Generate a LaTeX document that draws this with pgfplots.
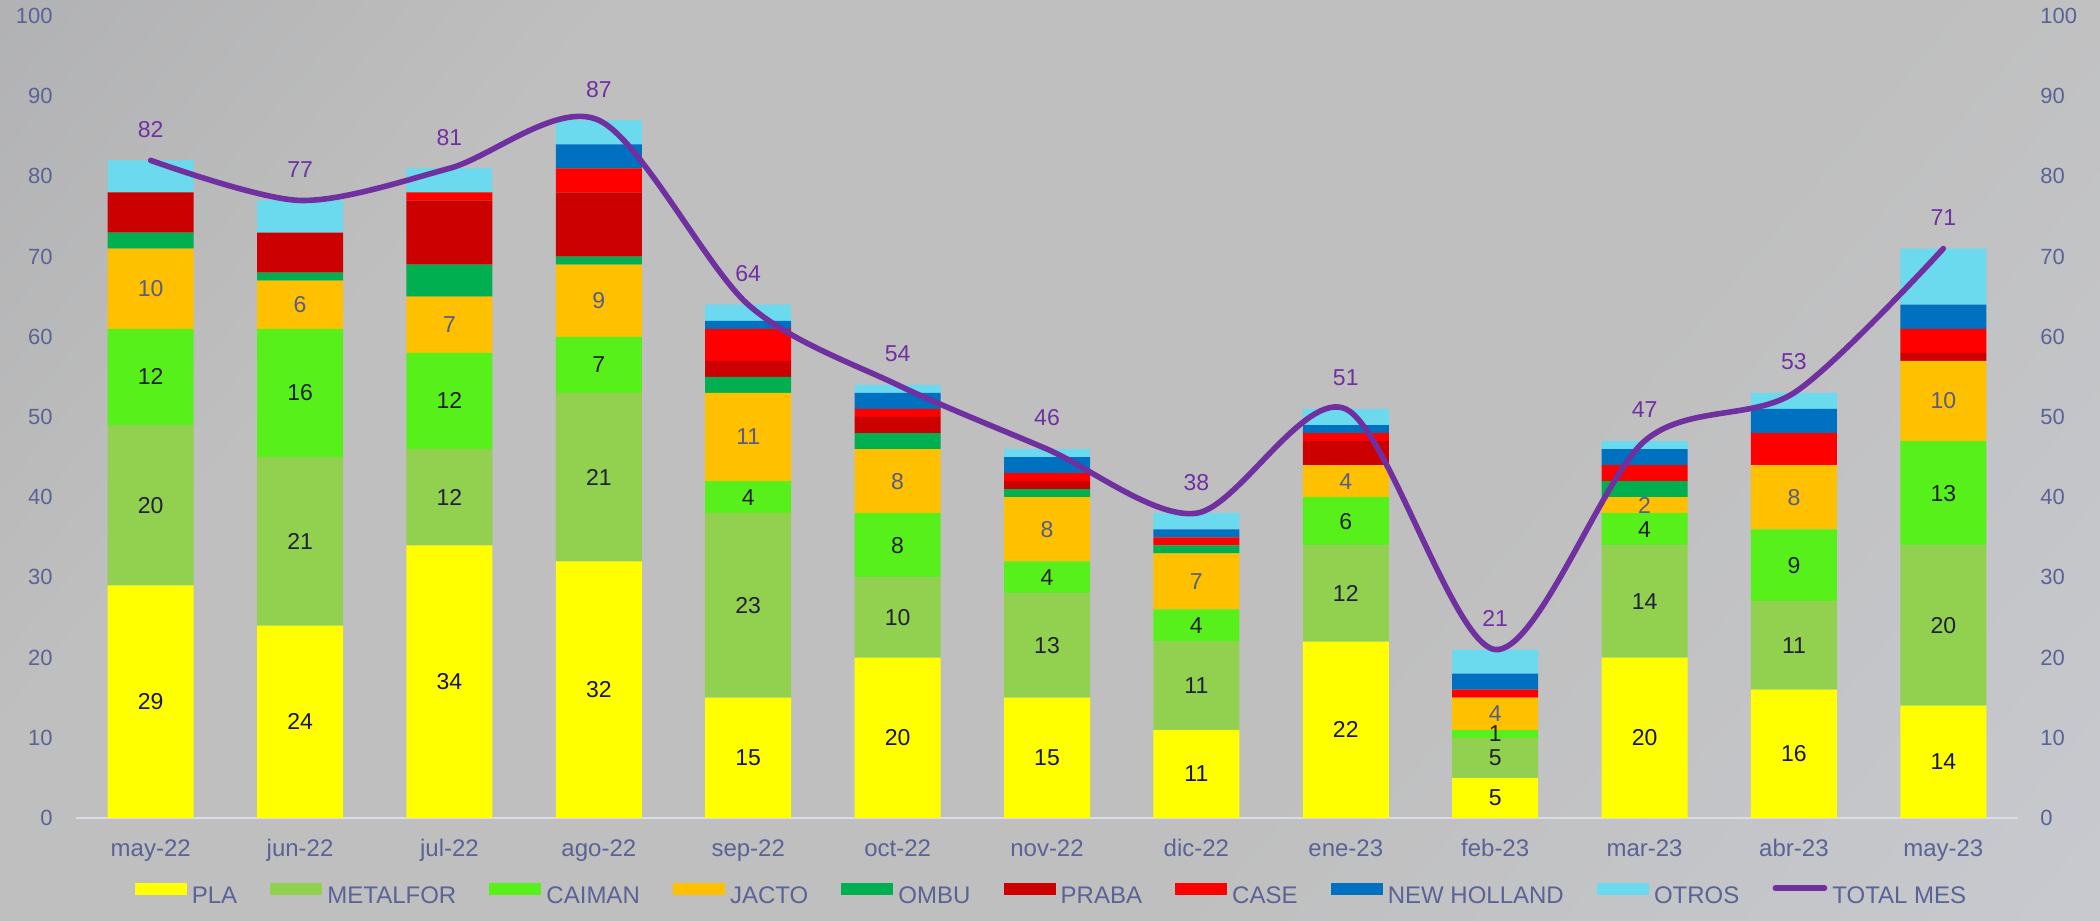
\documentclass[border=0pt]{standalone}
\usepackage{fontspec}
\setmainfont{Liberation Sans}
\usepackage{pgfplots}
\pgfplotsset{compat=1.18}
\usepackage{pgfplotstable}

\definecolor{cPLA}{HTML}{FFFF00}
\definecolor{cMET}{HTML}{92D050}
\definecolor{cCAI}{HTML}{58F01A}
\definecolor{cJAC}{HTML}{FFC000}
\definecolor{cOMB}{HTML}{00B050}
\definecolor{cPRA}{HTML}{CC0000}
\definecolor{cCAS}{HTML}{FF0000}
\definecolor{cNH}{HTML}{0070C0}
\definecolor{cOTR}{HTML}{6BD9EE}
\definecolor{cTOT}{HTML}{7030A0}
\definecolor{tickc}{HTML}{5A6396}
\definecolor{lblA}{HTML}{15154A}
\definecolor{lblB}{HTML}{202030}
\definecolor{lblJ}{HTML}{575C88}
\definecolor{axisline}{HTML}{DCDDE4}
\definecolor{bgA}{HTML}{A4A5A9}
\definecolor{bgB}{HTML}{BFBFBF}
\definecolor{bgC}{HTML}{CDD0D9}

\pgfdeclarehorizontalshading{bgshade}{100bp}{color(0bp)=(bgA); color(30bp)=(bgB); color(62bp)=(bgB); color(100bp)=(bgC)}

\pgfplotstableread{
x PLA MET CAI JAC OMB PRA CAS NH OTR TOT
0 29 20 12 10 2 5 0 0 4 82
1 24 21 16 6 1 5 0 0 4 77
2 34 12 12 7 4 8 1 0 3 81
3 32 21 7 9 1 8 3 3 3 87
4 15 23 4 11 2 2 4 1 2 64
5 20 10 8 8 2 2 1 2 1 54
6 15 13 4 8 1 1 1 2 1 46
7 11 11 4 7 1 0 1 1 2 38
8 22 12 6 4 0 3 1 1 2 51
9 5 5 1 4 0 0 1 2 3 21
10 20 14 4 2 2 0 2 2 1 47
11 16 11 9 8 0 0 4 3 2 53
12 14 20 13 10 0 1 3 3 7 71
}\datatable

\pgfplotsset{
  mybar/.style={fill=#1, draw=none,
    legend image code/.code={\fill[fill=#1] (0pt,1pt) rectangle (26pt,7pt);}},
  lbl/.style={nodes near coords, point meta=rawy,
    every node near coord/.append style={anchor=center,
      font=\fontsize{11.5}{13}\selectfont, text=#1}},
}

\begin{document}
\begin{tikzpicture}
\shade[shading=bgshade, shading angle=-40] (0,0) rectangle (1050pt,460.5pt);
\useasboundingbox (0,0) rectangle (1050pt,460.5pt);
\begin{axis}[
  at={(38pt,51.5pt)}, anchor=south west, scale only axis,
  width=971pt, height=401pt,
  xmin=-0.5, xmax=12.5, ymin=0, ymax=100,
  ybar stacked, bar width=43pt,
  axis x line*=bottom, axis y line*=left,
  x axis line style={draw=axisline, line width=0.8pt, -},
  y axis line style={draw=none},
  xtick={0,...,12},
  xticklabels={may-22,jun-22,jul-22,ago-22,sep-22,oct-22,nov-22,dic-22,ene-23,feb-23,mar-23,abr-23,may-23},
  ytick={0,10,...,100},
  major tick length=0pt, tick style={draw=none},
  xticklabel style={anchor=base, inner sep=0pt, yshift=-19.5pt,
    font=\fontsize{12}{14}\selectfont, text=tickc},
  yticklabel style={anchor=east, inner sep=0pt, xshift=-11.5pt,
    font=\fontsize{11}{13}\selectfont, text=tickc},
  /pgf/number format/assume math mode=true,
  clip=false,
  legend columns=-1,
  legend style={at={(0.5,0)}, anchor=south, xshift=1.75pt, yshift=-44.5pt,
    draw=none, fill=none, inner sep=0pt, outer sep=0pt, column sep=0pt,
    nodes={inner sep=0pt, font=\fontsize{12}{14}\selectfont, text=tickc},
    /tikz/every odd column/.append style={column sep=2.5pt},
    /tikz/every even column/.append style={column sep=16.6pt}},
]
\addplot[mybar=cPLA, lbl=lblA] table[x=x,y=PLA]{\datatable};
\addlegendentry{PLA}
\addplot[mybar=cMET, lbl=lblB] table[x=x,y=MET]{\datatable};
\addlegendentry{METALFOR}
\addplot[mybar=cCAI, lbl=lblB] table[x=x,y=CAI]{\datatable};
\addlegendentry{CAIMAN}
\addplot[mybar=cJAC, lbl=lblJ] table[x=x,y=JAC]{\datatable};
\addlegendentry{JACTO}
\addplot[mybar=cOMB] table[x=x,y=OMB]{\datatable};
\addlegendentry{OMBU}
\addplot[mybar=cPRA] table[x=x,y=PRA]{\datatable};
\addlegendentry{PRABA}
\addplot[mybar=cCAS] table[x=x,y=CAS]{\datatable};
\addlegendentry{CASE}
\addplot[mybar=cNH] table[x=x,y=NH]{\datatable};
\addlegendentry{NEW HOLLAND}
\addplot[mybar=cOTR] table[x=x,y=OTR]{\datatable};
\addlegendentry{OTROS}
\addlegendimage{legend image code/.code={\draw[color=cTOT, line width=2.8pt, line cap=round] (1.4pt,4.5pt) -- (26pt,4.5pt);}}
\addlegendentry{TOTAL MES}
\end{axis}
\begin{axis}[
  at={(38pt,51.5pt)}, anchor=south west, scale only axis,
  width=971pt, height=401pt,
  xmin=-0.5, xmax=12.5, ymin=0, ymax=100,
  axis x line=none, axis y line*=right,
  y axis line style={draw=none},
  ytick={0,10,...,100},
  major tick length=0pt, tick style={draw=none},
  yticklabel style={anchor=west, inner sep=0pt, xshift=11pt,
    font=\fontsize{11}{13}\selectfont, text=tickc},
  /pgf/number format/assume math mode=true,
  clip=false,
]
\addplot[color=cTOT, line width=2.8pt, smooth, line cap=round, mark=none,
  nodes near coords, point meta=y,
  every node near coord/.append style={anchor=center, yshift=15.5pt,
    text=cTOT, font=\fontsize{11.5}{13}\selectfont}]
  table[x=x,y=TOT]{\datatable};
\end{axis}
\end{tikzpicture}
\end{document}
